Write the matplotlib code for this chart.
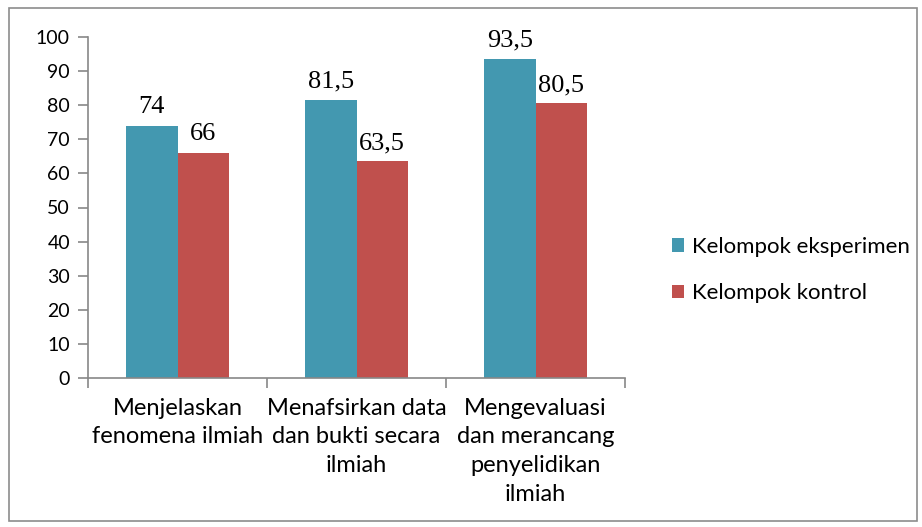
import matplotlib.pyplot as plt
import numpy as np
from matplotlib.patches import Rectangle

categories = ["Menjelaskan\nfenomena ilmiah",
              "Menafsirkan data\ndan bukti secara\nilmiah",
              "Mengevaluasi\ndan merancang\npenyelidikan\nilmiah"]
eksperimen = [74, 81.5, 93.5]
kontrol = [66, 63.5, 80.5]
series_names = ["Kelompok eksperimen", "Kelompok kontrol"]
yticks = [0, 10, 20, 30, 40, 50, 60, 70, 80, 90, 100]

teal = "#4398B0"
red = "#C0504D"
sans = "Lato"
serif = "Liberation Serif"

fig = plt.figure(figsize=(9.22, 5.27), dpi=100)
ax = fig.add_axes([88 / 922, 1 - 378 / 527, 537 / 922, 341 / 527])

# bingkai luar
fig.patches.append(Rectangle((9 / 922, 6 / 527), 908 / 922, 513 / 527,
                             transform=fig.transFigure, fill=False,
                             edgecolor="#8c8c8c", linewidth=1.2))

x = np.arange(len(categories))
w = 0.288
b1 = ax.bar(x - w / 2, eksperimen, w, color=teal, label=series_names[0])
b2 = ax.bar(x + w / 2, kontrol, w, color=red, label=series_names[1])

def fmt(v):
    s = ("%g" % v).replace(".", ",")
    return s

for bars, vals in ((b1, eksperimen), (b2, kontrol)):
    for r, v in zip(bars, vals):
        ax.text(r.get_x() + r.get_width() / 2, v + 2.2, fmt(v),
                ha="center", va="bottom", fontsize=19, family=serif)

ax.set_xlim(-0.5, 2.5)
ax.set_ylim(0, 100)
ax.set_yticks(yticks)
ax.set_yticklabels([str(t) for t in yticks], fontsize=14, family=sans)
ax.tick_params(axis="y", direction="out", length=7, width=1.2,
               color="#888888", pad=6)

ax.set_xticks([-0.5, 0.5, 1.5, 2.5])
ax.set_xticklabels([])
ax.tick_params(axis="x", direction="out", length=7, width=1.2,
               color="#888888")
for i, c in enumerate(categories):
    ax.text(x[i], -5.8, c, ha="center", va="top", fontsize=17,
            family=sans, linespacing=1.45)

for s in ["top", "right"]:
    ax.spines[s].set_visible(False)
for s in ["left", "bottom"]:
    ax.spines[s].set_color("#888888")
    ax.spines[s].set_linewidth(1.2)

leg = fig.legend(loc="center left", bbox_to_anchor=(652 / 922, 1 - 270 / 527),
                 frameon=False, prop={"family": sans, "size": 16},
                 handlelength=0.55, handleheight=0.55, handletextpad=0.35,
                 labelspacing=1.2)

fig.savefig("out.png", dpi=100)
